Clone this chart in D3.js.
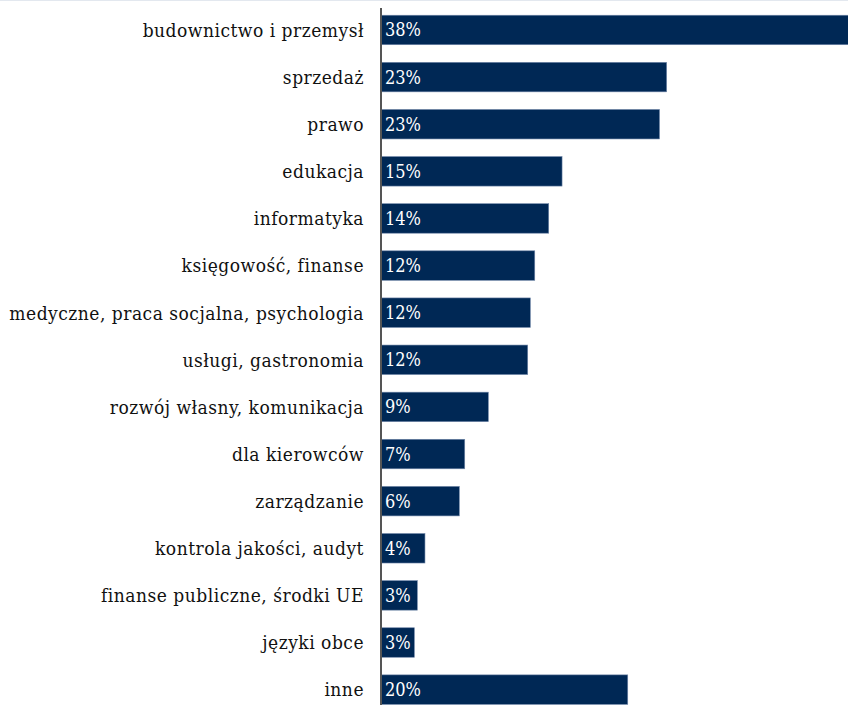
<!DOCTYPE html>
<html>
<head>
<meta charset="utf-8">
<script src="https://cdn.jsdelivr.net/npm/d3@7"></script>
<style>
  html, body { margin: 0; padding: 0; background: #ffffff; }
  svg { display: block; }
</style>
</head>
<body>
<div id="chart"></div>
<script>
// Obszary szkoleń – odsetek wskazań
const categories = [
  "budownictwo i przemysł",
  "sprzedaż",
  "prawo",
  "edukacja",
  "informatyka",
  "księgowość, finanse",
  "medyczne, praca socjalna, psychologia",
  "usługi, gastronomia",
  "rozwój własny, komunikacja",
  "dla kierowców",
  "zarządzanie",
  "kontrola jakości, audyt",
  "finanse publiczne, środki UE",
  "języki obce",
  "inne"
];
const values = [38.2, 23.13, 22.55, 14.66, 13.58, 12.45, 12.09, 11.88, 8.69, 6.78, 6.34, 3.56, 2.94, 2.70, 19.98];

const width = 848, height = 705;
const axisX = 381;

const svg = d3.select("#chart").append("svg")
  .attr("width", width)
  .attr("height", height);

// thin frame line along the top edge
svg.append("line")
  .attr("x1", 0).attr("x2", width)
  .attr("y1", 0.5).attr("y2", 0.5)
  .attr("stroke", "#e3e8ef")
  .attr("stroke-width", 1);

const x = d3.scaleLinear()
  .domain([0, 40])
  .range([axisX, axisX + 40 * 12.35]);

const y = d3.scaleBand()
  .domain(categories)
  .range([-2.4, 722])
  .padding(0.374);

const rows = categories.map((c, i) => ({ cat: c, val: values[i] }));

const font = "'DejaVu Serif Condensed', 'DejaVu Serif', serif";

// bars
svg.append("g").selectAll("rect")
  .data(rows)
  .join("rect")
  .attr("x", x(0))
  .attr("y", d => y(d.cat))
  .attr("width", d => x(d.val) - x(0))
  .attr("height", y.bandwidth())
  .attr("fill", "#002855")
  .attr("stroke", "#6f86a8")
  .attr("stroke-width", 0.6);

// value labels inside bars
svg.append("g").selectAll("text")
  .data(rows)
  .join("text")
  .attr("x", x(0) + 4)
  .attr("y", d => y(d.cat) + y.bandwidth() / 2)
  .attr("dy", "0.36em")
  .attr("fill", "#ffffff")
  .style("font-family", font)
  .style("font-size", "18px")
  .text(d => Math.round(d.val) + "%");

// category axis
const yAxis = d3.axisLeft(y).tickSize(0).tickPadding(17);
const gAxis = svg.append("g")
  .attr("transform", `translate(${axisX},0)`)
  .call(yAxis);
gAxis.select(".domain").remove();
gAxis.selectAll("text")
  .attr("fill", "#111111")
  .attr("dy", "0.36em")
  .style("font-family", font)
  .style("font-size", "19px")
  .style("letter-spacing", "0.5px");

// vertical axis line
svg.append("line")
  .attr("x1", axisX).attr("x2", axisX)
  .attr("y1", 8).attr("y2", height)
  .attr("stroke", "#555555")
  .attr("stroke-width", 2);
</script>
</body>
</html>
